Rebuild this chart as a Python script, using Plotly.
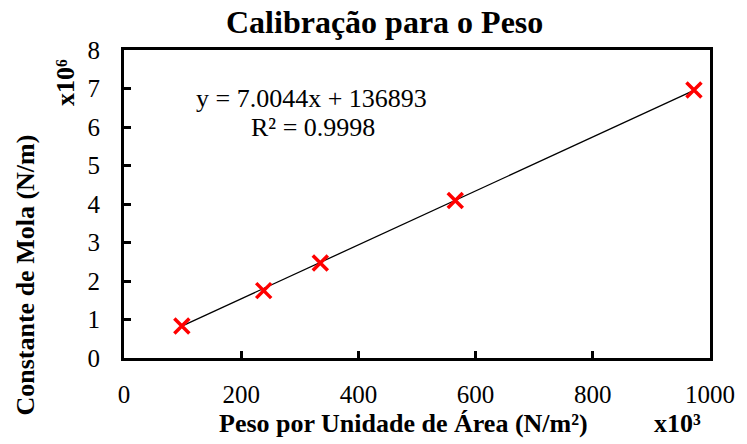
import plotly.graph_objects as go

# Calibration data: weight per unit area (x10^3 N/m²) vs spring constant (x10^6 N/m)
peso_area = [98.7, 238.4, 335.0, 565.3, 972.6]
constante_mola = [0.83, 1.75, 2.47, 4.09, 6.96]

# Linear fit reported for the raw units: y = 7.0044x + 136893
slope = 7.0044
intercept = 136893
r2 = 0.9998

x_fit = [min(peso_area), max(peso_area)]
y_fit = [(slope * x * 1e3 + intercept) / 1e6 for x in x_fit]

serif = "Liberation Serif, Times New Roman, serif"

# plot-area geometry in pixels (used to place annotations)
L, R, T, B, W, H = 124, 28, 50, 86, 747, 444
PW, PH = W - L - R, H - T - B


def px(xp):
    return (xp - L) / PW


def py(yp):
    return (H - B - yp) / PH


fig = go.Figure()
fig.add_trace(go.Scatter(
    x=x_fit, y=y_fit, mode="lines",
    line=dict(color="black", width=1.3), showlegend=False, hoverinfo="skip",
))
fig.add_trace(go.Scatter(
    x=peso_area, y=constante_mola, mode="markers",
    marker=dict(symbol="x-thin", size=15, line=dict(color="#ff0000", width=3.5)),
    showlegend=False,
))

axis_common = dict(
    showline=True, linecolor="black", linewidth=3, mirror=True,
    ticks="inside", ticklen=7, tickwidth=2.5, tickcolor="black",
    showgrid=False, zeroline=False,
    tickfont=dict(family=serif, size=25, color="black"),
)

ann_font = dict(family=serif, size=26, color="black")

fig.update_layout(
    width=W, height=H,
    margin=dict(l=L, r=R, t=T, b=B),
    paper_bgcolor="white", plot_bgcolor="white",
    xaxis=dict(range=[0, 1000], dtick=200, ticklabelstandoff=12, **axis_common),
    yaxis=dict(range=[0, 8], dtick=1, ticklabelstandoff=16, **axis_common),
    annotations=[
        dict(text="<b>Calibração para o Peso</b>", xref="paper", yref="paper",
             x=px(388), y=py(22), xanchor="center", yanchor="middle", showarrow=False,
             font=dict(family=serif, size=32, color="black")),
        dict(text="<b>Peso por Unidade de Área (N/m²)</b>", xref="paper", yref="paper",
             x=px(408), y=py(423), xanchor="center", yanchor="middle", showarrow=False,
             font=ann_font),
        dict(text="<b>x10³</b>", xref="paper", yref="paper",
             x=px(686), y=py(423), xanchor="center", yanchor="middle", showarrow=False,
             font=ann_font),
        dict(text="<b>Constante de Mola (N/m)</b>", xref="paper", yref="paper",
             x=px(23), y=py(275), xanchor="center", yanchor="middle",
             textangle=-90, showarrow=False, font=ann_font),
        dict(text="<b>x10⁶</b>", xref="paper", yref="paper",
             x=px(64), y=py(82), xanchor="center", yanchor="middle",
             textangle=-90, showarrow=False, font=ann_font),
        dict(text=f"y = {slope}x + {intercept}", xref="paper", yref="paper",
             x=px(314), y=py(98), xanchor="center", yanchor="middle", showarrow=False,
             font=ann_font),
        dict(text=f"R² = {r2}", xref="paper", yref="paper",
             x=px(316), y=py(127), xanchor="center", yanchor="middle", showarrow=False,
             font=ann_font),
    ],
)

fig.write_html("out.html")
